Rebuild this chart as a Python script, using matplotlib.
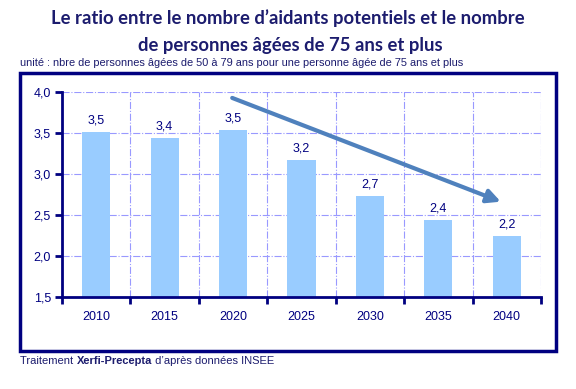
import numpy as np
import matplotlib.pyplot as plt
from matplotlib.patches import Rectangle

years = ['2010', '2015', '2020', '2025', '2030', '2035', '2040']
ratio = [3.51, 3.44, 3.54, 3.17, 2.73, 2.44, 2.24]
labels = ['3,5', '3,4', '3,5', '3,2', '2,7', '2,4', '2,2']
yticks = [1.5, 2.0, 2.5, 3.0, 3.5, 4.0]

navy = '#000080'
title_col = '#1c1c6e'

fig = plt.figure(figsize=(5.76, 3.89), dpi=100)
ax = fig.add_axes([0.1076, 0.2365, 0.8316, 0.527])

x = np.arange(len(years))
ax.bar(x, ratio, width=0.41, color='#99ccff', zorder=2)
for xi, v, lab in zip(x, ratio, labels):
    ax.annotate(lab, (xi, v), xytext=(0, 4), textcoords='offset points',
                ha='center', va='bottom', fontsize=9, color=navy,
                family='Liberation Sans')

ax.set_xlim(-0.5, len(years) - 0.5)
ax.set_ylim(1.5, 4.0)
ax.set_yticks(yticks)
ax.set_yticklabels([f'{t:.1f}'.replace('.', ',') for t in yticks])
ax.set_xticks(x)
ax.set_xticklabels(years)
ax.set_xticks(np.arange(-0.5, len(years)), minor=True)

ax.tick_params(axis='x', which='major', length=0, pad=10, labelsize=9, labelcolor=navy)
ax.tick_params(axis='x', which='minor', length=5, width=2, color=navy, direction='out')
ax.tick_params(axis='y', length=5, width=2, color=navy, direction='out', pad=3,
               labelsize=9, labelcolor=navy)
for lab in ax.get_xticklabels() + ax.get_yticklabels():
    lab.set_family('Liberation Sans')

for s in ['top', 'right']:
    ax.spines[s].set_visible(False)
for s in ['left', 'bottom']:
    ax.spines[s].set_color(navy)
    ax.spines[s].set_linewidth(2)

ax.grid(True, axis='y', color='#9999ff', linestyle='-.', linewidth=0.8, zorder=0)
ax.grid(True, axis='x', which='minor', color='#9999ff', linestyle='-.', linewidth=0.8, zorder=0)
ax.set_axisbelow(True)

# downward trend arrow
ax.annotate('', xy=(5.95, 2.65), xytext=(1.95, 3.94),
            arrowprops=dict(arrowstyle='-|>,head_length=0.8,head_width=0.4',
                            color='#4f81bd', lw=3), zorder=5)

# outer frame
fig.patches.append(Rectangle((0.0347, 0.0977), 0.9306, 0.7147, transform=fig.transFigure,
                             fill=False, edgecolor=navy, linewidth=2.5))

fig.text(0.5, 0.953, 'Le ratio entre le nombre d\u2019aidants potentiels et le nombre',
         ha='center', va='center', fontsize=13.3, fontweight='bold', color=title_col,
         family='Lato')
fig.text(0.504, 0.884, 'de personnes âgées de 75 ans et plus',
         ha='center', va='center', fontsize=13.3, fontweight='bold', color=title_col,
         family='Lato')
fig.text(0.035, 0.838, 'unité : nbre de personnes âgées de 50 à 79 ans pour une personne âgée de 75 ans et plus',
         ha='left', va='center', fontsize=7.9, color=title_col, family='Liberation Sans')

# footnote with bold part
r = fig.canvas.get_renderer()
fy = 0.072
t1 = fig.text(0.035, fy, 'Traitement ', ha='left', va='center', fontsize=8,
              color=title_col, family='Liberation Sans')
w1 = t1.get_window_extent(r).width / fig.bbox.width
t2 = fig.text(0.035 + w1, fy, 'Xerfi-Precepta', ha='left', va='center', fontsize=8,
              color=title_col, family='Liberation Sans', fontweight='bold')
w2 = t2.get_window_extent(r).width / fig.bbox.width
fig.text(0.035 + w1 + w2, fy, ' d\u2019après données INSEE', ha='left', va='center',
         fontsize=8, color=title_col, family='Liberation Sans')

fig.savefig('out.png', dpi=100)
